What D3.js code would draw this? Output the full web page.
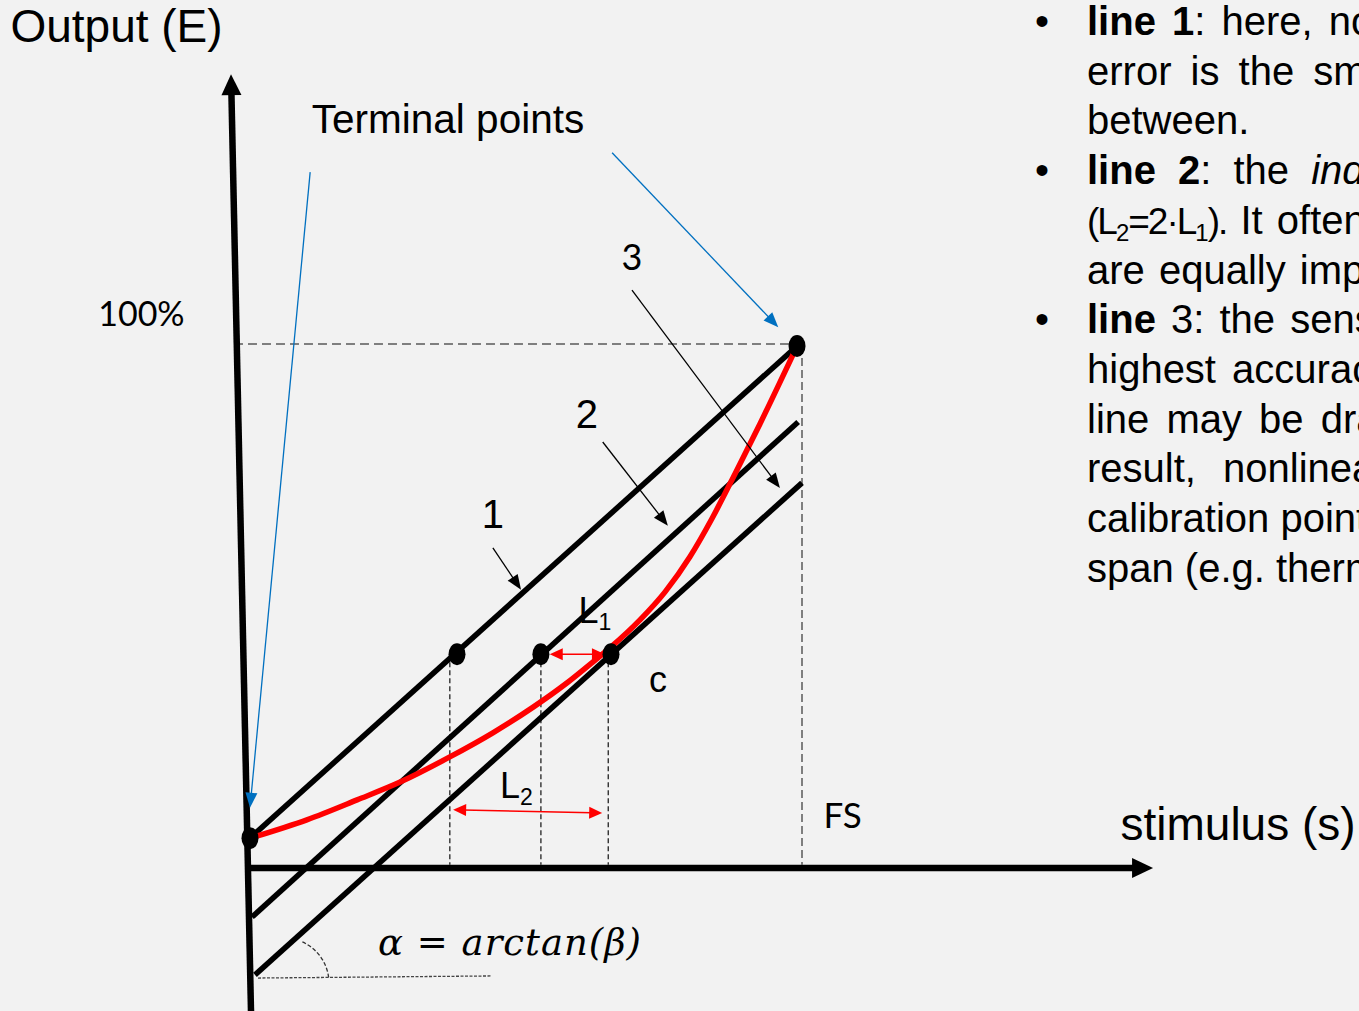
<!DOCTYPE html>
<html>
<head>
<meta charset="utf-8">
<script src="https://cdn.jsdelivr.net/npm/d3@7"></script>
<style>
  body { margin: 0; background: #f2f2f2; overflow: hidden; }
  svg { display: block; }
</style>
</head>
<body>
<svg id="fig"></svg>
<script>
const width = 1359, height = 1011;

// geometry in stimulus (% of FS) and output (% of 100%) units
const terminalPoints = [[0, 5.7], [99.1, 99.6]];
const line1 = [[0, 5.7], [99.1, 99.6]];
const line2 = [[0.36, -9.35], [99.3, 85.1]];
const line3 = [[0.9, -20.4], [100, 73.5]];
const transfer = [[0, 5.7], [10.3, 9.2], [19.4, 13.0], [27.2, 16.4], [36.2, 21.2], [44.0, 25.8],
                  [51.3, 30.7], [57.4, 35.3], [62.1, 39.3], [65.2, 42.0], [70.7, 47.4], [75.2, 52.7],
                  [79.7, 59.4], [83.7, 66.7], [87.9, 75.3], [92.4, 84.8], [99.1, 99.6]];
const calPoints = [[37.5, 40.8], [52.7, 40.8], [65.4, 40.8]];
const dropX = [36.2, 52.7, 64.9];
const fsX = 100, fullY = 100;
const yAxisPts = [[0.18, -27.3], [-3.44, 151.5]];
const xAxisPts = [[-0.36, 0], [163.6, 0]];
const L1 = [[54.3, 40.8], [64.3, 40.8]];
const L2 = [[36.8, 11.1], [63.8, 10.5]];
const blueArrows = [[[10.9, 132.8], [0, 11.5]], [[65.6, 136.5], [95.7, 103.2]]];
const labelArrows = [[[44.0, 61.1], [49.1, 53.1]], [[63.9, 81.3], [75.7, 65.3]], [[69.2, 110.3], [96.0, 72.5]]];
const baseLine = [[1.45, -21.0], [43.8, -20.6]];
const arcCentre = [6.16, -21.95];

const labels = [
  { text: "Output (E)", at: [-43.4, 157.6], size: 46 },
  { text: "Terminal points", at: [11.2, 140.3], size: 40.5 },
  { text: "100%", at: [-27.5, 103.4], size: 34, font: "Lato" },
  { text: "3", at: [67.3, 114.1], size: 36, font: "Lato" },
  { text: "2", at: [59.0, 84.0], size: 40 },
  { text: "1", at: [42.0, 64.9], size: 40 },
  { text: "c", at: [72.3, 33.6], size: 36 },
  { text: "FS", at: [103.9, 7.6], size: 35, font: "Lato" },
  { text: "stimulus (s)", at: [157.7, 5.3], size: 46 }
];
const subLabels = [
  { main: "L", sub: "1", at: [59.5, 46.8] },
  { main: "L", sub: "2", at: [45.3, 13.4] }
];

// right-hand notes: [text, style] segments, style b=bold i=italic s=condensed _=subscript
const notes = [
  [["line 1", "b"], [": here, nonlinearity", ""]],
  [["error is the smallest at the terminal points", ""]],
  [["between.", ""]],
  [["line 2", "b"], [": the ", ""], ["independent", "i"], [" linearity", ""]],
  [["(L", "s"], ["2", "_"], ["=2·L", "s"], ["1", "_"], [").", "s"], [" It often is used where", ""]],
  [["are equally important", ""]],
  [["line", "b"], [" 3: the sensor has the", ""]],
  [["highest accuracy near the", ""]],
  [["line may be drawn through", ""]],
  [["result, nonlinearity error", ""]],
  [["calibration points across the", ""]],
  [["span (e.g. thermistors)", ""]]
];
const noteSpacing = [5, 8, 0, 11, 3, 3, 4, 5, 6, 16, 0, 0];
const bulletRows = [0, 3, 6];

const x = d3.scaleLinear().domain([0, 100]).range([250, 802]);
const y = d3.scaleLinear().domain([0, 100]).range([868, 344]);
const pt = d => [x(d[0]), y(d[1])];

const svg = d3.select("#fig")
    .attr("width", width)
    .attr("height", height)
    .attr("viewBox", [0, 0, width, height])
    .style("background", "#f2f2f2");

const g = svg.append("g");
const line = d3.line().x(d => x(d[0])).y(d => y(d[1]));

function arrow(sel, a, b, o) {
  const p0 = pt(a), p1 = pt(b);
  const len = Math.hypot(p1[0] - p0[0], p1[1] - p0[1]);
  const ux = (p1[0] - p0[0]) / len, uy = (p1[1] - p0[1]) / len;
  const cut = o.head * 0.8;
  const s = o.both ? [p0[0] + ux * cut, p0[1] + uy * cut] : p0;
  const e = [p1[0] - ux * cut, p1[1] - uy * cut];
  sel.append("line")
      .attr("x1", s[0]).attr("y1", s[1]).attr("x2", e[0]).attr("y2", e[1])
      .attr("stroke", o.color).attr("stroke-width", o.w);
  const headAt = (tip, dx, dy) => {
    const bx = tip[0] - dx * o.head, by = tip[1] - dy * o.head;
    const nx = -dy * o.hw / 2, ny = dx * o.hw / 2;
    return [tip, [bx + nx, by + ny], [bx - nx, by - ny]];
  };
  sel.append("path").attr("d", d3.line()(headAt(p1, ux, uy)) + "Z").attr("fill", o.color);
  if (o.both) sel.append("path").attr("d", d3.line()(headAt(p0, -ux, -uy)) + "Z").attr("fill", o.color);
}

// dashed guides
g.append("line")
    .attr("x1", x(-2.9)).attr("x2", x(terminalPoints[1][0]))
    .attr("y1", y(fullY)).attr("y2", y(fullY))
    .attr("stroke", "#595959").attr("stroke-width", 1.5).attr("stroke-dasharray", "9,5");
g.append("line")
    .attr("x1", x(fsX)).attr("x2", x(fsX))
    .attr("y1", y(terminalPoints[1][1])).attr("y2", y(0.6))
    .attr("stroke", "#595959").attr("stroke-width", 1.5).attr("stroke-dasharray", "8,4");
g.selectAll(".drop")
  .data(dropX)
  .enter().append("line")
    .attr("class", "drop")
    .attr("x1", d => x(d)).attr("x2", d => x(d))
    .attr("y1", y(calPoints[0][1])).attr("y2", y(0.6))
    .attr("stroke", "#222").attr("stroke-width", 1.3).attr("stroke-dasharray", "5,3");
g.append("path")
    .attr("d", line(baseLine))
    .attr("stroke", "#444").attr("stroke-width", 1.3).attr("stroke-dasharray", "3,1.5");
const ap = d3.path();
ap.arc(x(arcCentre[0]), y(arcCentre[1]), 45, -1.15, -0.1);
g.append("path")
    .attr("d", ap.toString())
    .attr("fill", "none").attr("stroke", "#333").attr("stroke-width", 1.3).attr("stroke-dasharray", "4,2");

// axes
arrow(g, yAxisPts[0], yAxisPts[1], { color: "#000", w: 6.5, head: 21, hw: 20 });
arrow(g, xAxisPts[0], xAxisPts[1], { color: "#000", w: 6.5, head: 21, hw: 20 });

// straight lines
[line1, line2, line3].forEach(l => {
  g.append("path").attr("d", line(l))
      .attr("stroke", "#000").attr("stroke-width", 5.5).attr("fill", "none");
});

// transfer function
g.append("path")
    .attr("d", d3.line().x(d => x(d[0])).y(d => y(d[1])).curve(d3.curveMonotoneX)(transfer))
    .attr("stroke", "#ff0000").attr("stroke-width", 5.5).attr("fill", "none")
    .attr("stroke-linecap", "round");

// L1, L2 red arrows
arrow(g, L1[0], L1[1], { color: "#ff0000", w: 1.6, head: 13, hw: 12, both: true });
arrow(g, L2[0], L2[1], { color: "#ff0000", w: 1.6, head: 13, hw: 12, both: true });

// dots
g.selectAll(".dot")
  .data(terminalPoints.concat(calPoints))
  .enter().append("ellipse")
    .attr("class", "dot")
    .attr("cx", d => x(d[0])).attr("cy", d => y(d[1]))
    .attr("rx", 8.5).attr("ry", 11).attr("fill", "#000");

// pointer arrows
blueArrows.forEach(a => arrow(g, a[0], a[1], { color: "#0070c0", w: 1.3, head: 15, hw: 12 }));
labelArrows.forEach(a => arrow(g, a[0], a[1], { color: "#000", w: 1.3, head: 15, hw: 12 }));

// labels
g.selectAll(".lbl")
  .data(labels)
  .enter().append("text")
    .attr("class", "lbl")
    .attr("x", d => x(d.at[0])).attr("y", d => y(d.at[1]))
    .attr("font-family", d => (d.font || "Liberation Sans") + ", Arial, sans-serif")
    .attr("font-size", d => d.size)
    .attr("fill", "#000")
    .text(d => d.text);

subLabels.forEach(d => {
  const t = g.append("text")
      .attr("x", x(d.at[0])).attr("y", y(d.at[1]))
      .attr("font-family", "Liberation Sans, Arial, sans-serif")
      .attr("font-size", 36);
  t.append("tspan").text(d.main);
  t.append("tspan").attr("font-size", 23).attr("dy", 7).text(d.sub);
});

g.append("text")
    .attr("x", x(23.2)).attr("y", y(-16.6))
    .attr("font-family", "DejaVu Serif, serif")
    .attr("font-style", "italic")
    .attr("font-size", 37)
    .attr("letter-spacing", 1)
    .text("α = arctan(β)");

// notes on the right
const noteX = 1087, bulletX = 1035, noteTop = 35, noteLead = 49.7;
const notesG = svg.append("g")
    .attr("font-family", "Liberation Sans, Arial, sans-serif")
    .attr("font-size", 40)
    .attr("fill", "#000");

notes.forEach((segs, i) => {
  const t = notesG.append("text")
      .attr("x", noteX).attr("y", noteTop + i * noteLead)
      .attr("word-spacing", noteSpacing[i]);
  let shifted = 0;
  segs.forEach(([txt, st]) => {
    const ts = t.append("tspan").text(txt);
    if (st === "b") ts.attr("font-weight", "bold");
    if (st === "i") ts.attr("font-style", "italic");
    if (st === "s") ts.attr("font-size", 37).attr("letter-spacing", -2);
    if (st === "_") { ts.attr("font-size", 24).attr("letter-spacing", -1).attr("dy", 7 - shifted); shifted = 7; }
    else if (shifted) { ts.attr("dy", -shifted); shifted = 0; }
  });
});

notesG.selectAll(".bullet")
  .data(bulletRows)
  .enter().append("text")
    .attr("class", "bullet")
    .attr("x", bulletX).attr("y", d => noteTop + d * noteLead)
    .text("•");
</script>
</body>
</html>
